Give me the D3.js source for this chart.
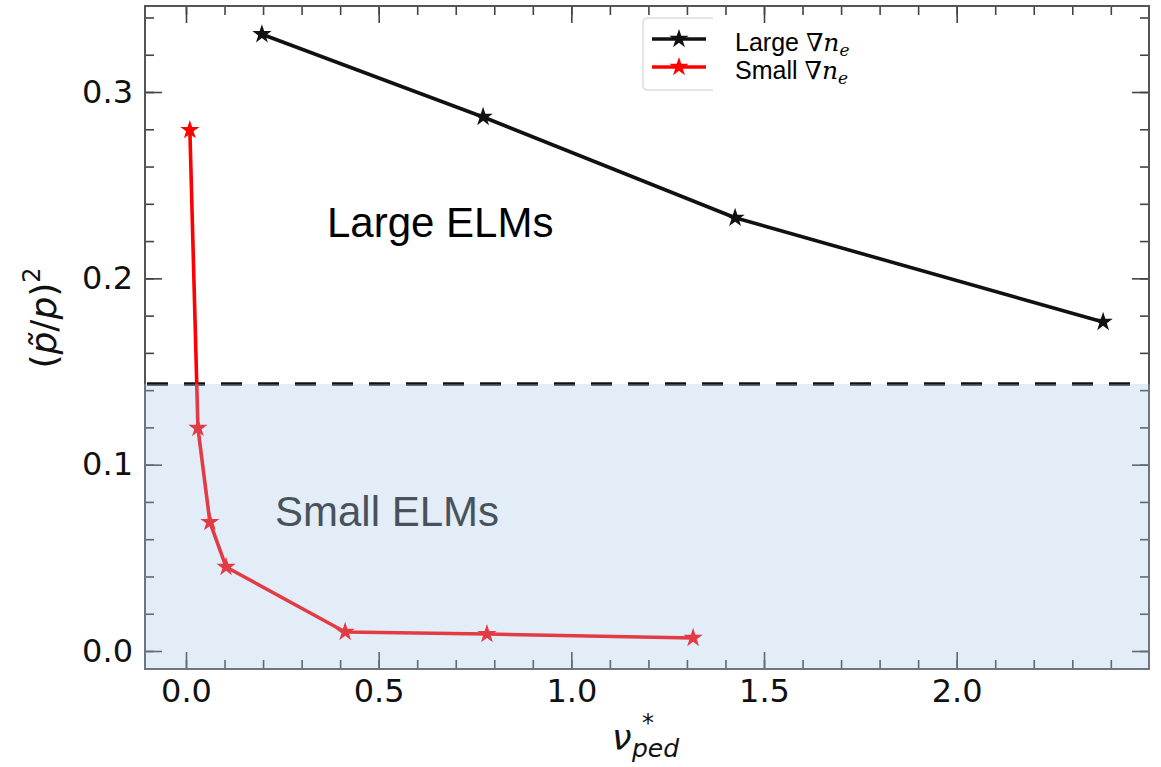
<!DOCTYPE html>
<html>
<head>
<meta charset="utf-8">
<script src="https://cdnjs.cloudflare.com/ajax/libs/d3/7.8.5/d3.min.js"></script>
<style>
  body { margin: 0; background: #fff; }
  svg text { font-family: "DejaVu Sans", sans-serif; }
</style>
</head>
<body>
<div id="chart"></div>
<script>
// values
var largeNu = [0.197, 0.771, 1.425, 2.38];
var largeP = [0.331, 0.2866, 0.2325, 0.1766];
var smallNu = [0.01, 0.031, 0.062, 0.104, 0.413, 0.781, 1.316];
var smallP = [0.2796, 0.1197, 0.0692, 0.0451, 0.0102, 0.0091, 0.0070];
var threshold = 0.1433;

var xTicks = [0, 0.5, 1.0, 1.5, 2.0];
var yTicks = [0, 0.1, 0.2, 0.3];
var xMinor = d3.range(0, 2.45, 0.1);
var yMinor = d3.range(0, 0.345, 0.02);

var width = 1161;
var height = 767;

var plotL = 145, plotR = 1149, plotT = 6, plotB = 669;

var x = d3.scaleLinear().domain([-0.1064, 2.4991]).range([plotL, plotR]);
var y = d3.scaleLinear().domain([-0.00966, 0.34616]).range([plotB, plotT]);

var svg = d3.select("#chart").append("svg")
    .attr("width", width)
    .attr("height", height);

var tickColor = "#444";

//ticks, all pointing inward
function styleAxis(g) {
  g.select(".domain").remove();
  g.selectAll(".tick line").attr("stroke", tickColor).attr("stroke-width", 1.6);
  g.selectAll(".tick text").attr("fill", "#111").style("font-size", "32px")
    .style("font-family", "DejaVu Sans");
}

svg.append("g").attr("transform", "translate(0," + plotB + ")")
  .call(d3.axisBottom(x).tickValues(xMinor).tickFormat("").tickSizeInner(-9).tickSizeOuter(0))
  .call(styleAxis);
svg.append("g").attr("transform", "translate(0," + plotB + ")")
  .call(d3.axisBottom(x).tickValues(xTicks).tickFormat(d3.format(".1f")).tickSizeInner(-17).tickSizeOuter(0).tickPadding(10))
  .call(styleAxis);
svg.append("g").attr("transform", "translate(0," + plotT + ")")
  .call(d3.axisTop(x).tickValues(xMinor).tickFormat("").tickSizeInner(-9).tickSizeOuter(0))
  .call(styleAxis);
svg.append("g").attr("transform", "translate(0," + plotT + ")")
  .call(d3.axisTop(x).tickValues(xTicks).tickFormat("").tickSizeInner(-17).tickSizeOuter(0))
  .call(styleAxis);

svg.append("g").attr("transform", "translate(" + plotL + ",0)")
  .call(d3.axisLeft(y).tickValues(yMinor).tickFormat("").tickSizeInner(-9).tickSizeOuter(0))
  .call(styleAxis);
svg.append("g").attr("transform", "translate(" + plotL + ",0)")
  .call(d3.axisLeft(y).tickValues(yTicks).tickFormat(d3.format(".1f")).tickSizeInner(-17).tickSizeOuter(0).tickPadding(12))
  .call(styleAxis);
svg.append("g").attr("transform", "translate(" + plotR + ",0)")
  .call(d3.axisRight(y).tickValues(yMinor).tickFormat("").tickSizeInner(-9).tickSizeOuter(0))
  .call(styleAxis);
svg.append("g").attr("transform", "translate(" + plotR + ",0)")
  .call(d3.axisRight(y).tickValues(yTicks).tickFormat("").tickSizeInner(-17).tickSizeOuter(0))
  .call(styleAxis);

// frame
svg.append("rect")
  .attr("x", plotL).attr("y", plotT)
  .attr("width", plotR - plotL).attr("height", plotB - plotT)
  .attr("fill", "none").attr("stroke", "#555").attr("stroke-width", 2);

// threshold line
svg.append("line")
  .attr("x1", plotL + 2).attr("x2", plotR - 6)
  .attr("y1", y(threshold)).attr("y2", y(threshold))
  .attr("stroke", "#111").attr("stroke-width", 3.5)
  .attr("stroke-dasharray", "21,16");

var line = d3.line().x(function(d) { return x(d[0]); }).y(function(d) { return y(d[1]); });
var star = d3.symbol().type(d3.symbolStar).size(115);

var series = [
  { nu: largeNu, p: largeP, color: "#111" },
  { nu: smallNu, p: smallP, color: "#ff0000" }
];

series.forEach(function(s) {
  var pts = s.nu.map(function(v, i) { return [v, s.p[i]]; });
  svg.append("path").datum(pts)
    .attr("d", line)
    .attr("fill", "none")
    .attr("stroke", s.color)
    .attr("stroke-width", 3.6)
    .attr("stroke-linejoin", "round");
  svg.selectAll(null).data(pts).enter().append("path")
    .attr("d", star)
    .attr("transform", function(d) { return "translate(" + x(d[0]) + "," + y(d[1]) + ")"; })
    .attr("fill", s.color);
});

// region labels
svg.append("text")
  .attr("x", 327).attr("y", 237)
  .style("font-family", "Liberation Sans, Arial, sans-serif")
  .style("font-size", "42px")
  .attr("fill", "#000")
  .text("Large ELMs");

svg.append("text")
  .attr("x", 275).attr("y", 526)
  .style("font-family", "Liberation Sans, Arial, sans-serif")
  .style("font-size", "42px")
  .attr("fill", "#222")
  .text("Small ELMs");

// translucent blue shading over the small ELM region
svg.append("rect")
  .attr("x", plotL - 1).attr("y", y(threshold))
  .attr("width", plotR - plotL + 2).attr("height", plotB + 1 - y(threshold))
  .attr("fill", "rgb(163,196,229)")
  .attr("opacity", 0.3);

// legend
var leg = svg.append("g");
leg.append("path")
  .attr("d", "M713,18 L648,18 Q643,18 643,23 L643,85 Q643,90 648,90 L713,90")
  .attr("fill", "#fff").attr("stroke", "#ddd").attr("stroke-width", 1.5);

var legendItems = [
  { label: "Large", color: "#111", yy: 39 },
  { label: "Small", color: "#ff0000", yy: 67 }
];
legendItems.forEach(function(it) {
  leg.append("line")
    .attr("x1", 652).attr("x2", 706).attr("y1", it.yy).attr("y2", it.yy)
    .attr("stroke", it.color).attr("stroke-width", 3.4);
  leg.append("path").attr("d", star)
    .attr("transform", "translate(679," + it.yy + ")")
    .attr("fill", it.color);
  var t = leg.append("text")
    .attr("x", 735).attr("y", it.yy + 12)
    .style("font-size", "25px")
    .attr("fill", "#000");
  t.append("tspan").style("font-family", "Liberation Sans, Arial, sans-serif").text(it.label + " ");
  t.append("tspan").style("font-family", "DejaVu Serif, serif").style("font-style", "italic").text("\u2207n");
  t.append("tspan").style("font-family", "DejaVu Serif, serif").style("font-style", "italic")
    .style("font-size", "17px").attr("dy", 5).text("e");
});

// axis labels
var xl = svg.append("g");
xl.append("text").attr("x", 612).attr("y", 750)
  .style("font-size", "35px").style("font-style", "italic").attr("fill", "#111").text("\u03bd");
xl.append("text").attr("x", 642).attr("y", 731)
  .style("font-size", "24px").attr("fill", "#111").text("*");
xl.append("text").attr("x", 632).attr("y", 757)
  .style("font-size", "25px").style("font-style", "italic").attr("fill", "#111").text("ped");

var yl = svg.append("text")
  .attr("transform", "translate(56,318) rotate(-90)")
  .attr("text-anchor", "middle")
  .style("font-size", "36px")
  .attr("fill", "#111");
yl.append("tspan").text("(");
yl.append("tspan").style("font-style", "italic").text("p\u0303");
yl.append("tspan").text("/");
yl.append("tspan").style("font-style", "italic").text("p");
yl.append("tspan").text(")");
yl.append("tspan").style("font-size", "24px").attr("dy", -16).text("2");
</script>
</body>
</html>
